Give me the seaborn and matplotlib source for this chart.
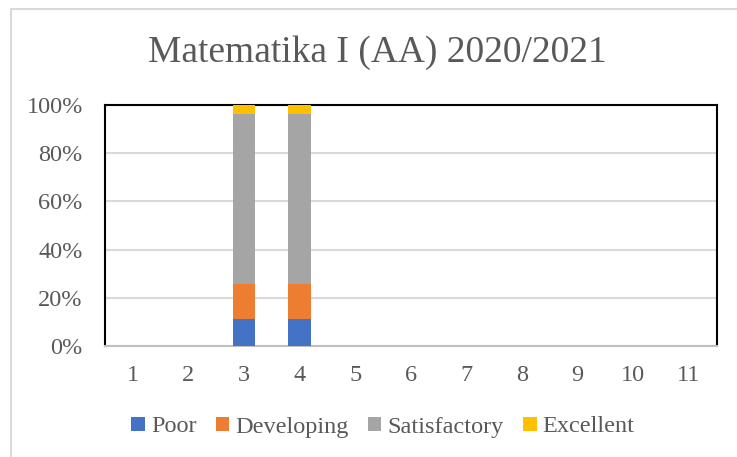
import pandas as pd
import numpy as np
import matplotlib
matplotlib.use("Agg")
import matplotlib.pyplot as plt
import seaborn as sns
from matplotlib.patches import Rectangle, Patch

# data (percent of students per level)
categories = [str(i) for i in range(1, 12)]
poor = [0, 0, 11.1, 11.1, 0, 0, 0, 0, 0, 0, 0]
developing = [0, 0, 14.8, 14.8, 0, 0, 0, 0, 0, 0, 0]
satisfactory = [0, 0, 70.4, 70.4, 0, 0, 0, 0, 0, 0, 0]
excellent = [0, 0, 3.7, 3.7, 0, 0, 0, 0, 0, 0, 0]

levels = ["Poor", "Developing", "Satisfactory", "Excellent"]
colors = ["#4472c4", "#ed7d31", "#a5a5a5", "#ffc000"]
text_color = "#595959"

df = pd.DataFrame({"group": categories, "Poor": poor, "Developing": developing,
                   "Satisfactory": satisfactory, "Excellent": excellent})

sns.set_style("white")
plt.rcParams["font.family"] = ["Liberation Serif", "DejaVu Serif"]

fig = plt.figure(figsize=(7.37, 4.57), dpi=100)
ax = fig.add_axes([105 / 737, 1 - 346 / 457, (716.5 - 105) / 737, (346 - 105) / 457])

# cumulative tops, drawn from the tallest down so each layer sits on the previous
cum = df[levels].cumsum(axis=1)
for level, color in reversed(list(zip(levels, colors))):
    sns.barplot(x=df["group"], y=cum[level], order=categories, color=color,
                width=0.4, linewidth=0, saturation=1, ax=ax, zorder=3)

ax.set_ylim(0, 100)
ax.set_xlim(-0.5, 10.5)
ax.set_yticks(np.arange(0, 101, 20))
ax.set_yticklabels([f"{v}%" for v in range(0, 101, 20)])
ax.set_xlabel("")
ax.set_ylabel("")
ax.grid(axis="y", color="#d9d9d9", linewidth=1.5, zorder=0)
ax.set_axisbelow(True)
ax.tick_params(axis="both", length=0, labelsize=17.5, labelcolor=text_color)
ax.tick_params(axis="x", pad=14)
ax.tick_params(axis="y", pad=16)

for side in ["left", "top", "right"]:
    ax.spines[side].set_color("black")
    ax.spines[side].set_linewidth(1.5)
ax.spines["bottom"].set_color("#bfbfbf")
ax.spines["bottom"].set_linewidth(1.5)

fig.text(377 / 737, 1 - 53 / 457, "Matematika I (AA) 2020/2021", ha="center", va="center",
         fontsize=27, color=text_color)

handles = [Patch(facecolor=c, edgecolor="none", label=l) for l, c in zip(levels, colors)]
fig.legend(handles=handles, loc="center", bbox_to_anchor=(383 / 737, 1 - 427 / 457), ncol=4,
           frameon=False, fontsize=17.5, labelcolor=text_color, handlelength=0.55,
           handleheight=0.55, handletextpad=0.25, columnspacing=0.8)

# outer chart border
fig.patches.append(Rectangle((11 / 737, -0.05), 1.1, 1 - 9 / 457 + 0.05,
                             transform=fig.transFigure, fill=False,
                             edgecolor="#d9d9d9", linewidth=1.5))

fig.savefig("out.png", dpi=100)
